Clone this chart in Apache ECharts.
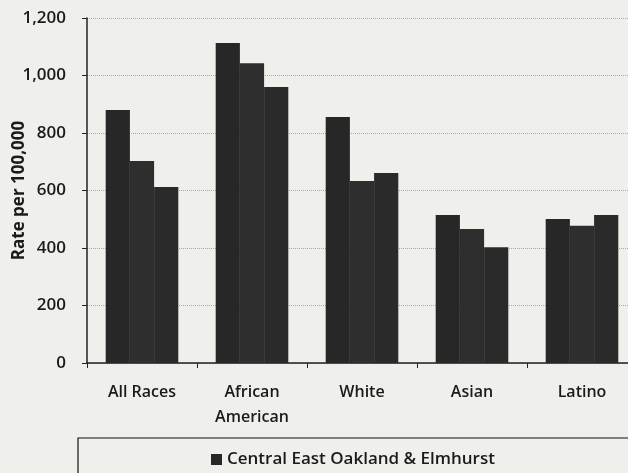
<!DOCTYPE html>
<html>
<head>
<meta charset="utf-8">
<script src="https://cdn.jsdelivr.net/npm/echarts@6/dist/echarts.min.js"></script>
<style>
  html, body { margin: 0; padding: 0; background: #efefec; }
  #chart { width: 628px; height: 473px; }
</style>
</head>
<body>
<div id="chart"></div>
<script>
const categories = ["All Races", "African\nAmerican", "White", "Asian", "Latino"];
const seriesNames = ["Central East Oakland & Elmhurst", "Oakland", "Alameda County"];
const eastOakland = [880, 1113, 856, 515, 501];
const oakland = [703, 1043, 633, 466, 477];
const alameda = [612, 960, 661, 403, 515];
const yTicks = [0, 200, 400, 600, 800, 1000, 1200];

const chart = echarts.init(document.getElementById("chart"));

const font = "'Open Sans', 'Noto Sans', sans-serif";
const barColors = ["#272727", "#2e2e2e", "#2a2a2a"];
const values = [eastOakland, oakland, alameda];

const option = {
  backgroundColor: "#efefec",
  animation: false,
  grid: { left: 87, right: -9, top: 18, bottom: 110, outerBoundsMode: "none", containLabel: false },
  legend: {
    data: [seriesNames[0]],
    left: 206,
    top: 446,
    itemWidth: 11,
    itemHeight: 11,
    itemGap: 6,
    icon: "rect",
    textStyle: { fontFamily: font, fontSize: 17, color: "#1a1a1a", fontWeight: 600 },
  },
  graphic: [
    {
      type: "rect",
      shape: { x: 78, y: 438, width: 600, height: 60 },
      style: { fill: "none", stroke: "#111", lineWidth: 1.2 },
      z: 0,
    },
  ],
  xAxis: {
    type: "category",
    data: categories,
    axisLine: { lineStyle: { color: "#222", width: 1.5 } },
    axisTick: { show: true, length: 5, lineStyle: { color: "#222" } },
    axisLabel: {
      fontFamily: font,
      fontSize: 16,
      fontWeight: 600,
      color: "#1a1a1a",
      margin: 17,
      lineHeight: 25,
      interval: 0,
    },
  },
  yAxis: {
    type: "value",
    min: 0,
    max: yTicks[yTicks.length - 1],
    interval: 200,
    name: "Rate per 100,000",
    nameLocation: "middle",
    nameGap: 59,
    nameMoveOverlap: false,
    nameTextStyle: { fontFamily: font, fontSize: 17, fontWeight: 700, color: "#1a1a1a" },
    axisLine: { show: true, lineStyle: { color: "#222", width: 1.5 } },
    axisTick: { show: true, length: 5, lineStyle: { color: "#222" } },
    axisLabel: {
      fontFamily: font,
      fontSize: 17,
      fontWeight: 600,
      color: "#1a1a1a",
      margin: 21,
      formatter: (v) => v.toLocaleString("en-US"),
    },
    splitLine: { show: true, lineStyle: { color: "#a8a8a8", type: "dotted", width: 1 } },
  },
  series: values.map((vals, i) => ({
    name: seriesNames[i],
    type: "bar",
    data: vals,
    barGap: "0%",
    barCategoryGap: "34%",
    itemStyle: { color: barColors[i] },
  })),
};

chart.setOption(option);
</script>
</body>
</html>
